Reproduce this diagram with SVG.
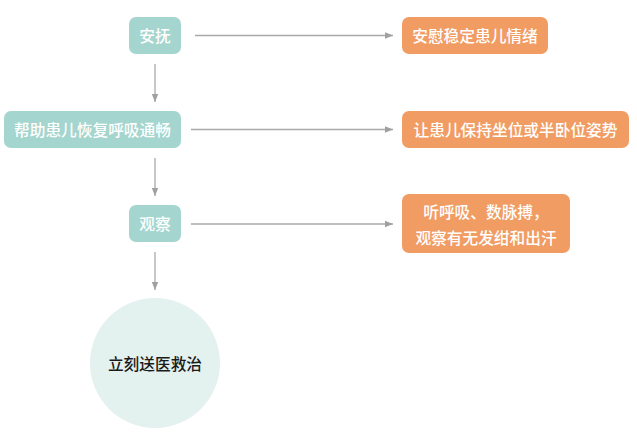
<svg xmlns="http://www.w3.org/2000/svg" width="637" height="438" viewBox="0 0 637 438">
<style>
.t{fill:#a4d5ce}
.o{fill:#f19c62}
text{font-family:"Noto Sans CJK SC","Noto Sans",sans-serif;font-size:15.7px;font-weight:500;text-anchor:middle;dominant-baseline:central}
.w{fill:#ffffff}
.k{fill:#1a1a1a}
.c{stroke:#a9a9a9;stroke-width:1.3;fill:none}
</style>
<defs>
<marker id="a" viewBox="0 0 10 10" refX="10" refY="5" markerWidth="8" markerHeight="8" markerUnits="userSpaceOnUse" orient="auto">
<path d="M0,1 L10,5 L0,9 z" fill="#a0a0a0"/>
</marker>
</defs>
<rect width="637" height="438" fill="#ffffff"/>
<g id="connectors">
<line class="c" x1="155" y1="64" x2="155" y2="102" marker-end="url(#a)"/>
<line class="c" x1="155" y1="158" x2="155" y2="196" marker-end="url(#a)"/>
<line class="c" x1="155" y1="252" x2="155" y2="290" marker-end="url(#a)"/>
<line class="c" x1="195" y1="35.5" x2="393" y2="35.5" marker-end="url(#a)"/>
<line class="c" x1="191" y1="129.5" x2="393" y2="129.5" marker-end="url(#a)"/>
<line class="c" x1="191" y1="224" x2="393" y2="224" marker-end="url(#a)"/>
</g>
<g id="n1"><rect class="t" x="129" y="17" width="52" height="37" rx="7"/><text class="w" x="155" y="35.5">安抚</text></g>
<g id="n2"><rect class="t" x="4" y="111" width="177" height="37" rx="7"/><text class="w" x="92.5" y="129.5">帮助患儿恢复呼吸通畅</text></g>
<g id="n3"><rect class="t" x="129" y="205" width="52" height="37" rx="7"/><text class="w" x="155" y="223.5">观察</text></g>
<g id="n4"><circle cx="155" cy="363" r="65" fill="#e3f1ef"/><text class="k" x="155" y="363">立刻送医救治</text></g>
<g id="o1"><rect class="o" x="402" y="17" width="146" height="37" rx="7"/><text class="w" x="475" y="35.5">安慰稳定患儿情绪</text></g>
<g id="o2"><rect class="o" x="402" y="111" width="227" height="37" rx="7"/><text class="w" x="515.5" y="129.5">让患儿保持坐位或半卧位姿势</text></g>
<g id="o3"><rect class="o" x="402" y="194" width="168" height="59" rx="7"/><text class="w" x="486" y="211.5">听呼吸、数脉搏，</text><text class="w" x="486" y="237.5">观察有无发绀和出汗</text></g>
</svg>
